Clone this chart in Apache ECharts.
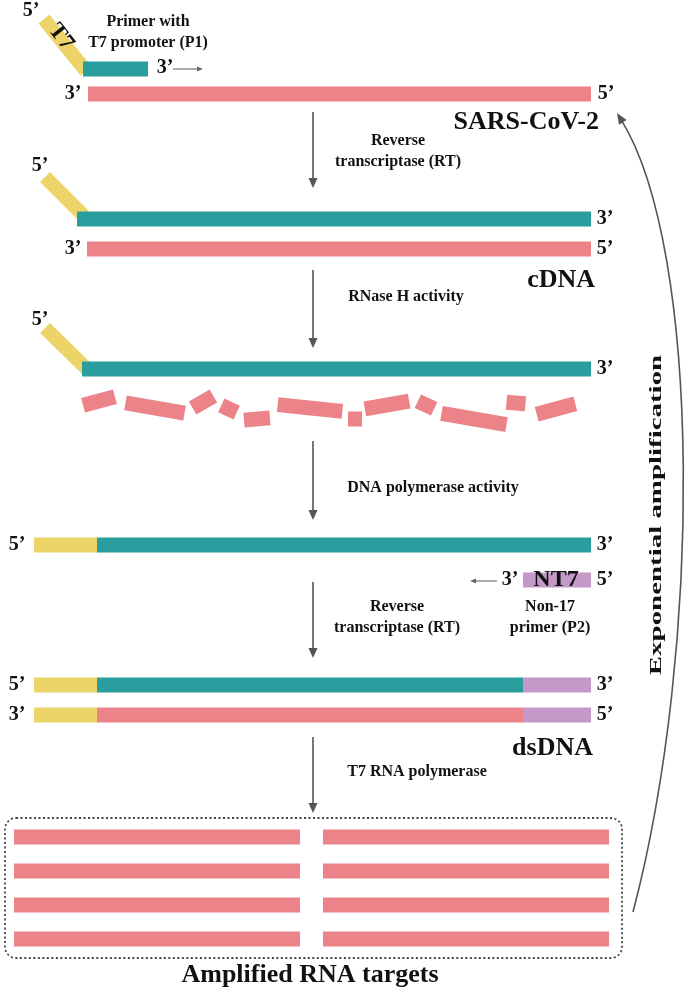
<!DOCTYPE html>
<html><head><meta charset="utf-8">
<script src="https://cdn.jsdelivr.net/npm/echarts@6/dist/echarts.min.js"></script>
<style>html,body{margin:0;padding:0;background:#fff}#c{width:693px;height:992px}</style>
</head><body><div id="c"></div>
<script>
// ---- diagram data (diagram units = reference pixels) ----
// strands: [xStart, xEnd, yCenter]
const pinkStrands = [[88,591,94],[87,591,249],[97,523,715],
  [14,300,837],[323,609,837],[14,300,871],[323,609,871],
  [14,300,905],[323,609,905],[14,300,939],[323,609,939]];
const tealStrands = [[83,148,69],[77,591,219],[82,591,369],[97,591,545],[97,523,685]];
const yellowStrands = [[34,97,545],[34,97,685],[34,97,715]];
const purpleStrands = [[523,591,580],[523,591,685],[523,591,715]];
// T7 tails: [x1,y1,x2,y2]
const yellowTails = [[44,19,86,71],[45,177,84,216],[45,328,87,369]];
// RNA fragments after RNase H: [cx, cy, length, tiltDeg]
const fragments = [[99,401,33,-15],[155,408,60,10],[203,402,24,-30],[229,409,17,25],
  [257,419,26,-5],[310,408,65,6],[355,419,14,0],[387,405,45,-10],[426,405,18,25],
  [474,419,66,10],[516,403,19,5],[556,409,40,-15]];
// step arrows: [x, yStart, yEnd]
const stepArrows = [[313,112,188],[313,270,348],[313,441,520],[313,582,658],[313,737,813]];
// primer extension arrows: [xStart, xEnd, y]
const primerArrows = [[173,203,69],[497,470,581]];
// labels: [text, x, y]
const endLabels = [['5’',31,11],['3’',165,68],['3’',73,94],['5’',606,94],
  ['5’',40,166],['3’',605,219],['3’',73,249],['5’',605,249],
  ['5’',40,320],['3’',605,369],
  ['5’',17,545],['3’',605,545],['3’',510,580],['5’',605,580],
  ['5’',17,685],['3’',605,685],['3’',17,715],['5’',605,715]];
const stepLabels = [['Primer with',148,22],['T7 promoter (P1)',148,43],
  ['Reverse',398,141],['transcriptase (RT)',398,162],
  ['RNase H activity',406,297],['DNA polymerase activity',433,488],
  ['Reverse',397,607],['transcriptase (RT)',397,628],
  ['Non-17',550,607],['primer (P2)',550,628],
  ['T7 RNA polymerase',417,772]];
const rightTitles = [['SARS-CoV-2',599,122],['cDNA',595,280],['dsDNA',593,748]];
const bottomTitle = [['Amplified RNA targets',310,975]];
const primerTags = [['NT7',556,580]];
const tailTags = [['T7',61,37]];
const sideLabel = [['Exponential amplification',657,515]];
const amplifiedBox = [[5,818,622,958]];
// loop arrow (cubic): [xStart,yStart,c1x,c1y,c2x,c2y,xEnd,yEnd]
const loopArrow = [[633,912,702,650,702,250,617,113]];

const C = {pink:'#EC8389', teal:'#2A9D9F', yellow:'#ECD468', purple:'#C498C8', arrow:'#555555'};
const SERIF = '"Liberation Serif","Times New Roman",serif';

function strandSeries(data, color, z) {
  return {type:'custom', coordinateSystem:'cartesian2d', data, z, silent:true,
    renderItem:(p, api) => {
      const a = api.coord([api.value(0), api.value(2)]);
      const b = api.coord([api.value(1), api.value(2)]);
      const h = api.size([0, 15])[1];
      return {type:'rect', shape:{x:a[0], y:a[1]-h/2, width:b[0]-a[0], height:h}, style:{fill:color}};
    }};
}
function tailSeries(data) {
  return {type:'custom', coordinateSystem:'cartesian2d', data, z:1, silent:true,
    renderItem:(p, api) => {
      const a = api.coord([api.value(0), api.value(1)]);
      const b = api.coord([api.value(2), api.value(3)]);
      const dx = b[0]-a[0], dy = b[1]-a[1], L = Math.hypot(dx, dy);
      const t = api.size([0, 14])[1] / 2;
      const nx = -dy/L*t, ny = dx/L*t;
      return {type:'polygon', shape:{points:[[a[0]+nx,a[1]+ny],[b[0]+nx,b[1]+ny],[b[0]-nx,b[1]-ny],[a[0]-nx,a[1]-ny]]},
        style:{fill:C.yellow}};
    }};
}
function fragmentSeries(data) {
  return {type:'custom', coordinateSystem:'cartesian2d', data, z:2, silent:true,
    renderItem:(p, api) => {
      const c = api.coord([api.value(0), api.value(1)]);
      const L = api.size([api.value(2), 0])[0];
      const h = api.size([0, 15])[1];
      return {type:'rect', x:c[0], y:c[1], rotation:-api.value(3)*Math.PI/180,
        shape:{x:-L/2, y:-h/2, width:L, height:h}, style:{fill:C.pink}};
    }};
}
function arrowHead(tip, ux, uy, len, half, color) {
  const bx = tip[0]-ux*len, by = tip[1]-uy*len;
  return {type:'polygon', shape:{points:[[tip[0],tip[1]],[bx-uy*half,by+ux*half],[bx+uy*half,by-ux*half]]}, style:{fill:color}};
}
function stepArrowSeries(data) {
  return {type:'custom', coordinateSystem:'cartesian2d', data, z:3, silent:true,
    renderItem:(p, api) => {
      const a = api.coord([api.value(0), api.value(1)]);
      const b = api.coord([api.value(0), api.value(2)]);
      return {type:'group', children:[
        {type:'line', shape:{x1:a[0], y1:a[1], x2:b[0], y2:b[1]-8}, style:{stroke:C.arrow, lineWidth:1.6}},
        arrowHead(b, 0, 1, 10, 4.5, C.arrow)]};
    }};
}
function primerArrowSeries(data) {
  return {type:'custom', coordinateSystem:'cartesian2d', data, z:3, silent:true,
    renderItem:(p, api) => {
      const a = api.coord([api.value(0), api.value(2)]);
      const b = api.coord([api.value(1), api.value(2)]);
      const s = Math.sign(b[0]-a[0]);
      return {type:'group', children:[
        {type:'line', shape:{x1:a[0], y1:a[1], x2:b[0]-s*4, y2:b[1]}, style:{stroke:'#666', lineWidth:1.1}},
        arrowHead(b, s, 0, 6, 2.5, '#666')]};
    }};
}
function textSeries(arr, font, opts) {
  opts = opts || {};
  return {type:'custom', coordinateSystem:'cartesian2d', data:arr.map(d => [d[1], d[2]]), z:opts.z || 5, silent:true,
    renderItem:(p, api) => {
      const c = api.coord([api.value(0), api.value(1)]);
      return {type:'text', x:c[0], y:c[1], rotation:opts.rotation || 0, scaleX:opts.stretch || 1,
        style:{text:arr[p.dataIndex][0], x:0, y:0, font, fill:'#111',
          align:opts.align || 'center', verticalAlign:'middle'}};
    }};
}
function boxSeries(data) {
  return {type:'custom', coordinateSystem:'cartesian2d', data, z:0, silent:true,
    renderItem:(p, api) => {
      const a = api.coord([api.value(0), api.value(1)]);
      const b = api.coord([api.value(2), api.value(3)]);
      return {type:'rect', shape:{x:a[0], y:a[1], width:b[0]-a[0], height:b[1]-a[1], r:11},
        style:{fill:'none', stroke:'#444', lineWidth:1.8, lineDash:[2,2.5]}};
    }};
}
function loopSeries(data) {
  return {type:'custom', coordinateSystem:'cartesian2d', data, z:3, silent:true,
    renderItem:(p, api) => {
      const s = api.coord([api.value(0), api.value(1)]);
      const c1 = api.coord([api.value(2), api.value(3)]);
      const c2 = api.coord([api.value(4), api.value(5)]);
      const e = api.coord([api.value(6), api.value(7)]);
      const dx = e[0]-c2[0], dy = e[1]-c2[1], L = Math.hypot(dx, dy);
      const ux = dx/L, uy = dy/L;
      const e2 = [e[0]-ux*8, e[1]-uy*8];
      return {type:'group', children:[
        {type:'bezierCurve', shape:{x1:s[0], y1:s[1], cpx1:c1[0], cpy1:c1[1], cpx2:c2[0], cpy2:c2[1], x2:e2[0], y2:e2[1]},
          style:{stroke:C.arrow, lineWidth:1.6, fill:'none'}},
        arrowHead(e, ux, uy, 11, 4.5, C.arrow)]};
    }};
}

const chart = echarts.init(document.getElementById('c'), null, {renderer:'canvas'});
chart.setOption({
  backgroundColor:'#ffffff',
  animation:false,
  grid:{left:0, right:0, top:0, bottom:0},
  xAxis:{type:'value', min:0, max:693, show:false},
  yAxis:{type:'value', min:0, max:992, inverse:true, show:false},
  series:[
    boxSeries(amplifiedBox),
    tailSeries(yellowTails),
    strandSeries(pinkStrands, C.pink, 2),
    strandSeries(tealStrands, C.teal, 2),
    strandSeries(yellowStrands, C.yellow, 2),
    strandSeries(purpleStrands, C.purple, 2),
    fragmentSeries(fragments),
    stepArrowSeries(stepArrows),
    primerArrowSeries(primerArrows),
    loopSeries(loopArrow),
    textSeries(endLabels, 'bold 20px ' + SERIF),
    textSeries(stepLabels, 'bold 16px ' + SERIF),
    textSeries(rightTitles, 'bold 26px ' + SERIF, {align:'right'}),
    textSeries(bottomTitle, 'bold 26px ' + SERIF),
    textSeries(primerTags, 'bold 24px ' + SERIF),
    textSeries(tailTags, 'bold 23px ' + SERIF, {rotation:-52*Math.PI/180}),
    textSeries(sideLabel, 'bold 17px ' + SERIF, {rotation:Math.PI/2, stretch:1.7})
  ]
});
</script></body></html>
